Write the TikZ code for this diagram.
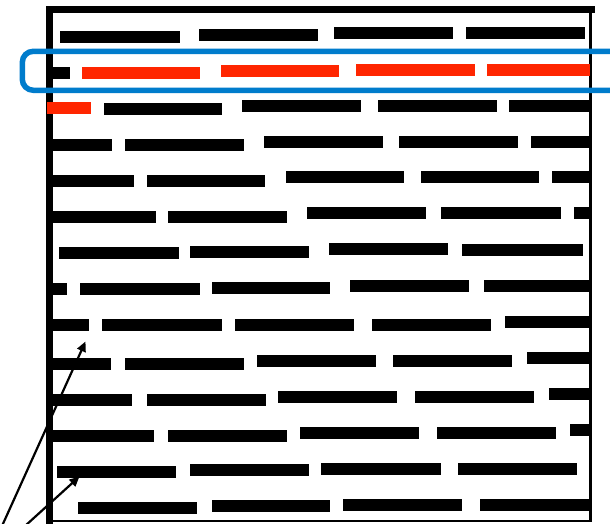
\documentclass[tikz,border=0pt]{standalone}
\usetikzlibrary{arrows.meta}
\definecolor{barred}{RGB}{255,38,0}
\definecolor{boxblue}{RGB}{0,124,204}
\tikzset{
  blackbar/.style={fill=black},
  redbar/.style={fill=barred},
  frameline/.style={draw=black, line cap=butt},
  hilite/.style={draw=boxblue, line width=5.5pt, rounded corners=11pt},
  pointer/.style={draw=black, line width=2.2pt, -{Triangle[length=10pt,width=9pt]}}
}
\begin{document}
\begin{tikzpicture}[x=1pt,y=-1pt]
\clip (0,0) rectangle (610,523);
\fill[white] (0,0) rectangle (610,523);
% frame
\draw[frameline, line width=6.5pt] (49.3,526) -- (49.3,9.3) -- (595,9.3);
\draw[frameline, line width=2.5pt] (590.3,9) -- (590.3,521) -- (49,521);
% black bars: x1/x2/ycentre
\foreach \a/\b/\c in {
  60/180/36.7, 199/318/34.5, 334/453/33.3, 466/585/33.3,
  47/70/72.7,
  104/222/109, 242/361/105.5, 378/497/105.5, 509/590/105.5,
  47/112/144.5, 125/244/144.5, 264/383/142, 399/518/142, 531/590/142,
  47/134/180.7, 147/265/180.7, 286/404/177, 421/539/177, 552/590/177,
  47/156/216.7, 168/287/216.7, 307/426/212.5, 441/561/213, 574/590/213,
  59/179/252.8, 190/309/252, 329/448/249, 462/583/249.5,
  47/67/289, 80/200/289, 212/330/288, 350/469/285.5, 484/590/285.5,
  47/89/325.3, 102/222/325.3, 235/354/325, 372/491/325, 505/590/322,
  47/111/363.7, 125/244/363.7, 257/376/361, 393/512/361, 527/590/358,
  47/132/399.7, 147/266/399.7, 278/397/397, 415/534/397, 549/590/393.5,
  47/154/436, 168/287/436, 300/419/433, 437/556/433, 570/590/430,
  57/176/472, 190/309/470, 321/441/469, 458/577/469,
  78/197/508, 212/330/506, 343/462/505, 480/590/505}
  {\path[blackbar] (\a,\c-6) rectangle (\b,\c+6);}
% red bars
\foreach \a/\b/\c in {
  82/200/72.7, 221/339/71, 356/475/69.5, 487/590/69.5,
  47/91/108}
  {\path[redbar] (\a,\c-6) rectangle (\b,\c+6);}
% highlight box
\draw[hilite] (650,51.3) -- (22.3,51.3) -- (22.3,90.3) -- (650,90.3);
% arrows
\coordinate (s1) at (2,526);
\coordinate (t1) at (85.5,341.5);
\coordinate (s2) at (25,526);
\coordinate (t2) at (79.5,476.5);
\draw[pointer] (s1) -- (t1);
\draw[pointer] (s2) -- (t2);
\end{tikzpicture}
\end{document}
